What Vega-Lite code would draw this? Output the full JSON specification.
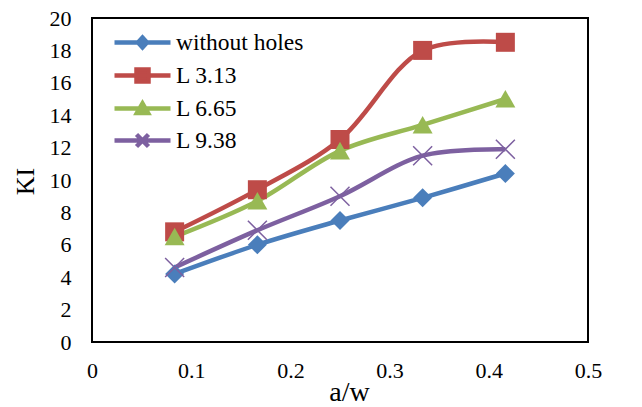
{
  "$schema": "https://vega.github.io/schema/vega-lite/v6.json",
  "width": 496,
  "height": 324,
  "autosize": "none",
  "padding": {"left": 92, "top": 18, "right": 54, "bottom": 65},
  "background": "white",
  "config": {
    "view": {"stroke": "black", "strokeWidth": 2},
    "font": "Liberation Serif",
    "axis": {"labelFont": "Liberation Serif", "titleFont": "Liberation Serif", "labelColor": "black", "titleColor": "black", "titleFontWeight": "normal", "grid": false, "domain": false, "ticks": false, "labelFontSize": 22},
    "legend": {"labelFont": "Liberation Serif", "labelColor": "black", "symbolStrokeWidth": 4.5, "symbolOpacity": 1}
  },
  "data": {
    "values": [
      {"aw": 0.0833, "KI": 4.2, "series": "without holes"},
      {"aw": 0.1667, "KI": 6.0, "series": "without holes"},
      {"aw": 0.25, "KI": 7.5, "series": "without holes"},
      {"aw": 0.3333, "KI": 8.9, "series": "without holes"},
      {"aw": 0.4167, "KI": 10.4, "series": "without holes"},
      {"aw": 0.0833, "KI": 6.8, "series": "L 3.13"},
      {"aw": 0.1667, "KI": 9.4, "series": "L 3.13"},
      {"aw": 0.25, "KI": 12.5, "series": "L 3.13"},
      {"aw": 0.3333, "KI": 18.0, "series": "L 3.13"},
      {"aw": 0.4167, "KI": 18.5, "series": "L 3.13"},
      {"aw": 0.0833, "KI": 6.5, "series": "\u00a0L 6.65"},
      {"aw": 0.1667, "KI": 8.7, "series": "\u00a0L 6.65"},
      {"aw": 0.25, "KI": 11.8, "series": "\u00a0L 6.65"},
      {"aw": 0.3333, "KI": 13.4, "series": "\u00a0L 6.65"},
      {"aw": 0.4167, "KI": 15.0, "series": "\u00a0L 6.65"},
      {"aw": 0.0833, "KI": 4.6, "series": "L 9.38"},
      {"aw": 0.1667, "KI": 6.9, "series": "L 9.38"},
      {"aw": 0.25, "KI": 9.0, "series": "L 9.38"},
      {"aw": 0.3333, "KI": 11.5, "series": "L 9.38"},
      {"aw": 0.4167, "KI": 11.9, "series": "L 9.38"}
    ]
  },
  "encoding": {
    "x": {"field": "aw", "type": "quantitative", "title": "a/w",
      "scale": {"domain": [0, 0.5], "nice": false, "zero": false},
      "axis": {"values": [0, 0.1, 0.2, 0.3, 0.4, 0.5], "format": "~g", "labelPadding": 18, "labelFlush": false,
        "titleFontSize": 28, "titleBaseline": "alphabetic", "titleX": 257, "titleY": 58, "titleAlign": "center"}},
    "y": {"field": "KI", "type": "quantitative", "title": "KI",
      "scale": {"domain": [0, 20], "nice": false},
      "axis": {"values": [0, 2, 4, 6, 8, 10, 12, 14, 16, 18, 20], "labelPadding": 21, "labelFlush": false,
        "titleFontSize": 26, "titleBaseline": "alphabetic", "titleX": -59, "titleY": 163, "titleAngle": -90, "titleAlign": "center"}},
    "color": {"field": "series", "type": "nominal",
      "scale": {"domain": ["without holes", "L 3.13", "\u00a0L 6.65", "L 9.38"], "range": ["#4A7EBB", "#BE4B48", "#98B954", "#7D60A0"]},
      "legend": {
        "orient": "none", "legendX": 38, "legendY": 12, "title": null,
        "labelFontSize": 23.5, "symbolSize": 400, "labelOffset": 21, "rowPadding": 3, "padding": 0, "symbolStrokeWidth": 4.5, "symbolOpacity": 1
      }
    }
  },
  "layer": [
    {
      "transform": [{"filter": "false"}],
      "mark": {"type": "point", "filled": true, "opacity": 1, "strokeWidth": 4.5, "size": 400},
      "encoding": {
        "stroke": {"field": "series", "type": "nominal", "scale": {"domain": ["without holes", "L 3.13", "\u00a0L 6.65", "L 9.38"], "range": ["#4A7EBB", "#BE4B48", "#98B954", "#7D60A0"]}},
        "shape": {"field": "series", "type": "nominal",
          "scale": {"domain": ["without holes", "L 3.13", "\u00a0L 6.65", "L 9.38"],
            "range": ["M-2.8,0H2.8M-0.45,0L0,-0.5L0.45,0L0,0.5Z", "M-2.8,0H2.8M-0.6,-0.6H0.6V0.6H-0.6Z", "M-2.8,0H2.8M-0.55,0.45L0,-0.5L0.55,0.45Z", "M-2.8,0H2.8M-0.6,-0.6L0.6,0.6M-0.6,0.6L0.6,-0.6"]}}
      }
    },
    {
      "mark": {"type": "line", "interpolate": "catmull-rom", "strokeWidth": 4.5}
    },
    {
      "transform": [{"filter": "datum.series === 'without holes'"}],
      "mark": {"type": "point", "filled": true, "opacity": 1, "strokeWidth": 0, "size": 361, "shape": "M-1,0L0,-1L1,0L0,1Z"}
    },
    {
      "transform": [{"filter": "datum.series === 'L 3.13'"}],
      "mark": {"type": "point", "filled": true, "opacity": 1, "strokeWidth": 0, "size": 361, "shape": "M-1,-1H1V1H-1Z"}
    },
    {
      "transform": [{"filter": "datum.series === '\u00a0L 6.65'"}],
      "mark": {"type": "point", "filled": true, "opacity": 1, "strokeWidth": 0, "size": 361, "shape": "M-1.05,0.9L0,-0.95L1.05,0.9Z"}
    },
    {
      "transform": [{"filter": "datum.series === 'L 9.38'"}],
      "mark": {"type": "point", "filled": false, "opacity": 1, "strokeWidth": 1.5, "size": 361, "shape": "M-1,-1L1,1M-1,1L1,-1"}
    }
  ]
}
